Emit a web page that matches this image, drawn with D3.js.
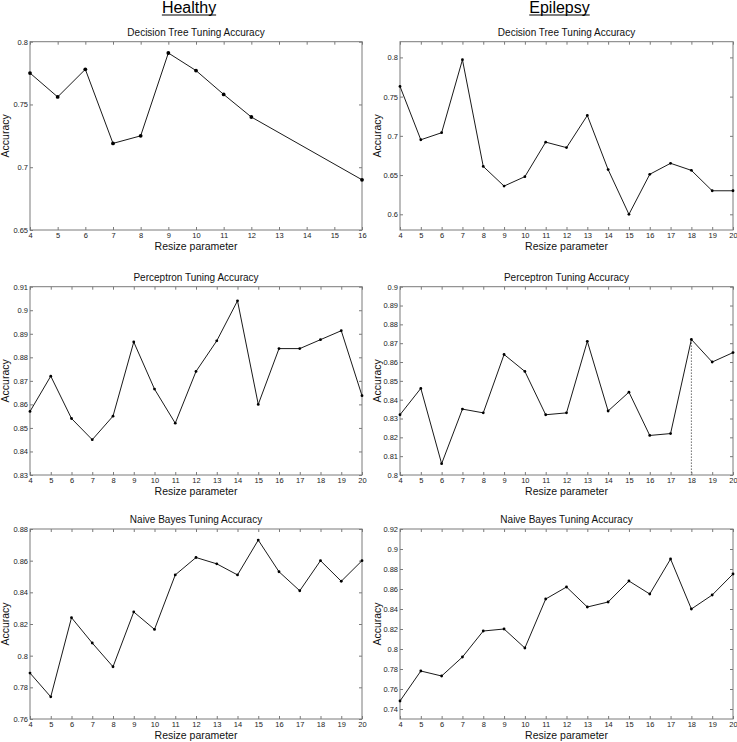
<!DOCTYPE html>
<html>
<head>
<meta charset="utf-8">
<script src="https://cdn.jsdelivr.net/npm/d3@7"></script>
<style>
  body { margin: 0; background: #fff; }
  svg { font-family: "Liberation Sans", Arial, Helvetica, sans-serif; }
  .axis text { font-size: 7.5px; fill: #222; }
  .axis line { stroke: #7a7a7a; }
  .axis path { display: none; }
</style>
</head>
<body>
<div id="chart"></div>
<script>
// values
const resizeParams = [4, 5, 6, 7, 8, 9, 10, 11, 12, 13, 14, 15, 16, 17, 18, 19, 20];
const healthyTreeParams = [4, 5, 6, 7, 8, 9, 10, 11, 12, 16];

const healthyTree = [0.775, 0.756, 0.778, 0.719, 0.725, 0.791, 0.777, 0.758, 0.740, 0.690];
const epilepsyTree = [0.763, 0.695, 0.704, 0.797, 0.661, 0.636, 0.648, 0.692, 0.685, 0.726, 0.657, 0.600, 0.651, 0.665, 0.656, 0.630, 0.630];
const healthyPerceptron = [0.857, 0.872, 0.854, 0.845, 0.855, 0.8865, 0.8665, 0.852, 0.874, 0.887, 0.904, 0.860, 0.8837, 0.8837, 0.8875, 0.8913, 0.8637];
const epilepsyPerceptron = [0.832, 0.846, 0.806, 0.835, 0.833, 0.864, 0.855, 0.832, 0.833, 0.871, 0.834, 0.844, 0.821, 0.822, 0.872, 0.860, 0.865];
const healthyBayes = [0.789, 0.774, 0.824, 0.808, 0.793, 0.8276, 0.8166, 0.851, 0.862, 0.858, 0.851, 0.873, 0.853, 0.841, 0.860, 0.847, 0.860];
const epilepsyBayes = [0.748, 0.778, 0.773, 0.792, 0.818, 0.820, 0.801, 0.850, 0.862, 0.842, 0.847, 0.868, 0.855, 0.890, 0.840, 0.854, 0.875];

// tick labels
const healthyTreeXTicks = [4, 5, 6, 7, 8, 9, 10, 11, 12, 13, 14, 15, 16];
const healthyTreeTicks = [0.65, 0.7, 0.75, 0.8];
const epilepsyTreeTicks = [0.6, 0.65, 0.7, 0.75, 0.8];
const healthyPerceptronTicks = [0.83, 0.84, 0.85, 0.86, 0.87, 0.88, 0.89, 0.9, 0.91];
const epilepsyPerceptronTicks = [0.8, 0.81, 0.82, 0.83, 0.84, 0.85, 0.86, 0.87, 0.88, 0.89, 0.9];
const healthyBayesTicks = [0.76, 0.78, 0.8, 0.82, 0.84, 0.86, 0.88];
const epilepsyBayesTicks = [0.74, 0.76, 0.78, 0.8, 0.82, 0.84, 0.86, 0.88, 0.9, 0.92];

const columnTitles = ['Healthy', 'Epilepsy'];

const W = 737;
const H = 742;

const svg = d3
  .select('#chart')
  .append('svg')
  .attr('width', W)
  .attr('height', H);

// panel boxes (pixels)
const cols = [
  { left: 30, right: 362 },
  { left: 400, right: 733 },
];
const rows = [
  { top: 41.7, bottom: 230 },
  { top: 286.7, bottom: 475 },
  { top: 529, bottom: 719 },
];

const panels = [
  { col: 0, row: 0, title: 'Decision Tree Tuning Accuracy', xs: healthyTreeParams, ys: healthyTree, xDomain: [4, 16], xTicks: healthyTreeXTicks, yDomain: [0.65, 0.8], yTicks: healthyTreeTicks, dots: true },
  { col: 1, row: 0, title: 'Decision Tree Tuning Accuracy', xs: resizeParams, ys: epilepsyTree, xDomain: [4, 20], xTicks: resizeParams, yDomain: [0.58, 0.82], yTicks: epilepsyTreeTicks, dots: true },
  { col: 0, row: 1, title: 'Perceptron Tuning Accuracy', xs: resizeParams, ys: healthyPerceptron, xDomain: [4, 20], xTicks: resizeParams, yDomain: [0.83, 0.91], yTicks: healthyPerceptronTicks, dots: true },
  { col: 1, row: 1, title: 'Perceptron Tuning Accuracy', xs: resizeParams, ys: epilepsyPerceptron, xDomain: [4, 20], xTicks: resizeParams, yDomain: [0.8, 0.9], yTicks: epilepsyPerceptronTicks, dots: true, cursor: 18 },
  { col: 0, row: 2, title: 'Naive Bayes Tuning Accuracy', xs: resizeParams, ys: healthyBayes, xDomain: [4, 20], xTicks: resizeParams, yDomain: [0.76, 0.88], yTicks: healthyBayesTicks, dots: true },
  { col: 1, row: 2, title: 'Naive Bayes Tuning Accuracy', xs: resizeParams, ys: epilepsyBayes, xDomain: [4, 20], xTicks: resizeParams, yDomain: [0.73, 0.92], yTicks: epilepsyBayesTicks, dots: true },
];

// column headings, underlined
columnTitles.forEach((t, i) => {
  const cx = (cols[i].left + cols[i].right) / 2 - 7;
  const txt = svg
    .append('text')
    .attr('x', cx)
    .attr('y', 13)
    .attr('text-anchor', 'middle')
    .style('font-size', '16px')
    .style('fill', '#000')
    .text(t);
  const w = txt.node().getComputedTextLength();
  svg
    .append('line')
    .attr('x1', cx - w / 2)
    .attr('x2', cx + w / 2)
    .attr('y1', 15)
    .attr('y2', 15)
    .attr('stroke', '#000')
    .attr('stroke-width', 1.1);
});

panels.forEach((p) => {
  const c = cols[p.col];
  const r = rows[p.row];
  const width = c.right - c.left;
  const height = r.bottom - r.top;

  const g = svg
    .append('g')
    .attr('transform', 'translate(' + c.left + ',' + r.top + ')');

  const xScale = d3.scaleLinear().domain(p.xDomain).range([0, width]);
  const yScale = d3.scaleLinear().domain(p.yDomain).range([height, 0]);

  // ticks on all four sides, pointing inward
  g.append('g')
    .attr('class', 'axis')
    .attr('transform', 'translate(0,' + height + ')')
    .call(d3.axisBottom(xScale).tickValues(p.xTicks).tickFormat(d3.format('d')).tickSizeInner(-3).tickSizeOuter(0).tickPadding(3));
  g.append('g')
    .attr('class', 'axis')
    .call(d3.axisTop(xScale).tickValues(p.xTicks).tickFormat('').tickSizeInner(-3).tickSizeOuter(0));
  g.append('g')
    .attr('class', 'axis')
    .call(d3.axisLeft(yScale).tickValues(p.yTicks).tickFormat((d) => String(d)).tickSizeInner(-3).tickSizeOuter(0).tickPadding(2));
  g.append('g')
    .attr('class', 'axis')
    .attr('transform', 'translate(' + width + ',0)')
    .call(d3.axisRight(yScale).tickValues(p.yTicks).tickFormat('').tickSizeInner(-3).tickSizeOuter(0));

  g.append('rect')
    .attr('width', width)
    .attr('height', height)
    .attr('fill', 'none')
    .attr('stroke', '#7a7a7a')
    .attr('stroke-width', 1);

  const pts = p.xs.map((x, i) => [x, p.ys[i]]);

  if (p.cursor !== undefined) {
    const i = p.xs.indexOf(p.cursor);
    g.append('line')
      .attr('x1', xScale(p.cursor))
      .attr('x2', xScale(p.cursor))
      .attr('y1', yScale(p.ys[i]))
      .attr('y2', height)
      .attr('stroke', '#444')
      .attr('stroke-width', 0.8)
      .attr('stroke-dasharray', '1.5,1.5');
  }

  const line = d3
    .line()
    .x((d) => xScale(d[0]))
    .y((d) => yScale(d[1]));

  g.append('path')
    .datum(pts)
    .attr('d', line)
    .attr('fill', 'none')
    .attr('stroke', '#1a1a1a')
    .attr('stroke-width', 1);

  if (p.dots) {
    g.selectAll('circle.pt')
      .data(pts)
      .enter()
      .append('circle')
      .attr('class', 'pt')
      .attr('cx', (d) => xScale(d[0]))
      .attr('cy', (d) => yScale(d[1]))
      .attr('r', p.row === 0 && p.col === 0 ? 1.9 : 1.4)
      .attr('fill', '#000');
  }

  g.append('text')
    .attr('x', width / 2)
    .attr('y', -6)
    .attr('text-anchor', 'middle')
    .style('font-size', '10px')
    .style('fill', '#111')
    .text(p.title);

  g.append('text')
    .attr('x', width / 2)
    .attr('y', height + 20)
    .attr('text-anchor', 'middle')
    .style('font-size', '10.5px')
    .style('fill', '#111')
    .text('Resize parameter');

  g.append('text')
    .attr('transform', 'translate(' + (p.col === 0 ? -21 : -19) + ',' + height / 2 + ') rotate(-90)')
    .attr('text-anchor', 'middle')
    .style('font-size', '10.5px')
    .style('fill', '#111')
    .text('Accuracy');
});
</script>
</body>
</html>
